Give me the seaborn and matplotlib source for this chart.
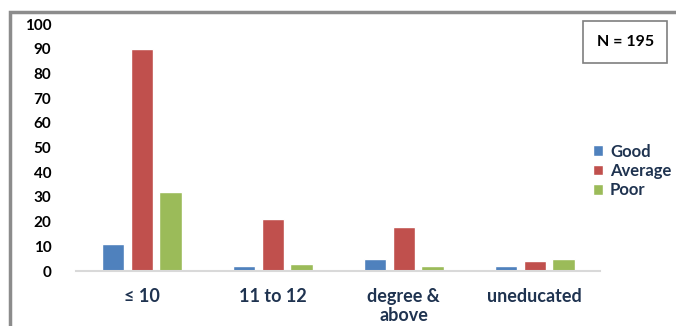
import matplotlib
matplotlib.use("Agg")
import matplotlib.pyplot as plt
import seaborn as sns
import pandas as pd
from matplotlib.patches import Rectangle

categories = ["≤ 10", "11 to 12", "degree &\nabove", "uneducated"]
good = [11, 2, 5, 2]
average = [90, 21, 18, 4]
poor = [32, 3, 2, 5]
series = ["Good", "Average", "Poor"]
yticks = [0, 10, 20, 30, 40, 50, 60, 70, 80, 90, 100]

rows = []
for c, g, a, p in zip(categories, good, average, poor):
    rows += [(c, "Good", g), (c, "Average", a), (c, "Poor", p)]
df = pd.DataFrame(rows, columns=["cat", "series", "value"])

sns.set_theme(style="white")
plt.rcParams["font.family"] = ["Lato", "DejaVu Sans"]

fig = plt.figure(figsize=(6.76, 3.26), dpi=100)
ax = fig.add_axes([0.113, 0.1687, 0.775, 0.757])
palette = {"Good": "#4F81BD", "Average": "#C0504D", "Poor": "#9BBB59"}
sns.barplot(data=df, x="cat", y="value", hue="series", hue_order=series,
            palette=palette, width=0.66, gap=0.22, ax=ax, saturation=1,
            legend=True)
ax.set_xlim(-0.5, 3.5)
ax.set_ylim(0, 100)
ax.set_yticks(yticks)
ax.set_xlabel("")
ax.set_ylabel("")
for s in ["top", "right", "left"]:
    ax.spines[s].set_visible(False)
ax.spines["bottom"].set_color("#d9d9d9")
ax.spines["bottom"].set_linewidth(1.5)
ax.tick_params(axis="both", length=0)
ax.tick_params(axis="y", pad=18)
ax.tick_params(axis="x", pad=12)
for t in ax.get_yticklabels():
    t.set_fontweight("bold"); t.set_fontsize(11); t.set_color("#000000")
for t in ax.get_xticklabels():
    t.set_fontweight("bold"); t.set_fontsize(13); t.set_color("#1F3350")
    t.set_linespacing(1.15)

leg = ax.legend(loc="upper left", bbox_to_anchor=(0.868, 0.58),
                bbox_transform=fig.transFigure, frameon=False,
                prop={"weight": "bold", "size": 12},
                handlelength=0.6, handleheight=0.6, handletextpad=0.4,
                labelspacing=0.2, borderaxespad=0)
for t in leg.get_texts():
    t.set_color("#1F3350")

fig.text(0.925, 0.871, "N = 195", ha="center", va="center", fontsize=11.5,
         fontweight="bold", color="#000000",
         bbox=dict(boxstyle="square,pad=0.85", fc="white", ec="#7f7f7f", lw=1.2))

fig.patches.append(Rectangle((0.0148, -0.1), 1.2, 1.063, transform=fig.transFigure,
                             fill=False, ec="#8c8c8c", lw=2.5, zorder=10))
fig.savefig("out.png", dpi=100)
